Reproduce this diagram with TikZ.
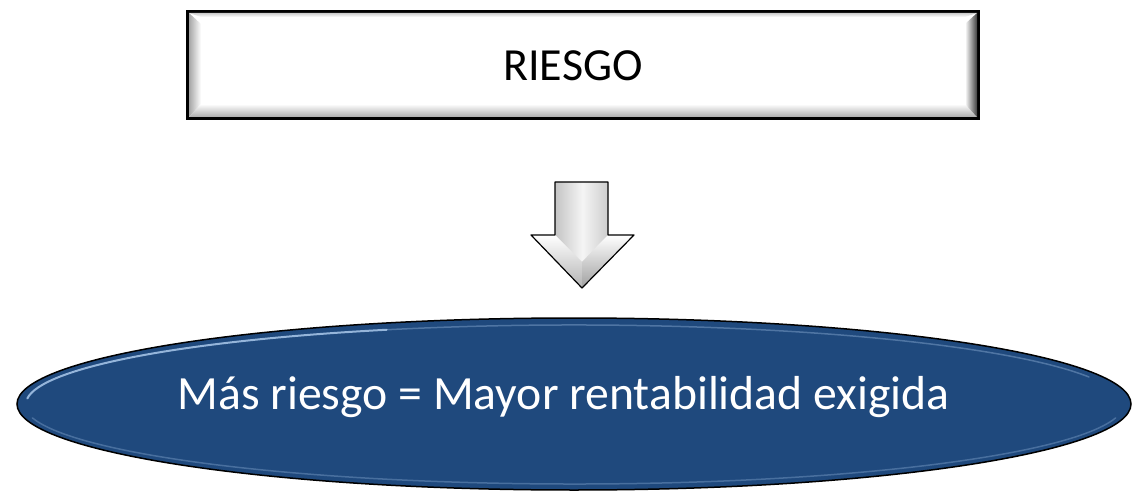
\documentclass[tikz,border=0pt]{standalone}
\usepackage{fontspec}
\setmainfont{Carlito}
\usetikzlibrary{shapes.geometric}
\definecolor{ovalblue}{RGB}{31,73,125}
\definecolor{rimblue}{RGB}{170,200,235}
\tikzset{
  titlebox/.style={draw=black, line width=3pt, fill=white, minimum width=791pt, minimum height=107pt, inner sep=0pt},
  oval/.style={ellipse, draw=black, line width=1.5pt, fill=ovalblue, minimum width=1114pt, minimum height=172pt, inner sep=0pt},
}
\begin{document}
\begin{tikzpicture}[x=1pt,y=-1pt]
\useasboundingbox (0,0) rectangle (1133,492);
% title box
\node[titlebox] (riesgo) at (583,65) {};
% bevels
\shade[left color=gray!70, right color=white] (189,13) -- (201,24) -- (201,104) -- (189,117) -- cycle;
\shade[top color=white, bottom color=gray!65] (189,117) -- (201,104) -- (965,104) -- (977,117) -- cycle;
\shade[left color=white, right color=black!75] (965,24) -- (977,13) -- (977,117) -- (965,104) -- cycle;
\shade[top color=gray!40, bottom color=white] (189,13) -- (977,13) -- (965,17) -- (201,17) -- cycle;
\node[font=\fontsize{46}{50}\selectfont, text=black] (riesgotxt) at (573,66) {RIESGO};
% block arrow
\shade[left color=gray!80, right color=gray!70, middle color=white!92!gray]
  (555,182) -- (608,182) -- (608,235) -- (634,235) -- (582,288) -- (531,235) -- (555,235) -- cycle;
\shade[top color=white, bottom color=gray!60] (531,235) -- (555,235) -- (562,242) -- (582,262) -- (582,288) -- cycle;
\shade[top color=white, bottom color=gray!75] (634,235) -- (608,235) -- (601,242) -- (582,262) -- (582,288) -- cycle;
\draw[line width=1.2pt, line join=round]
  (555,182) -- (608,182) -- (608,235) -- (634,235) -- (582,288) -- (531,235) -- (555,235) -- cycle;
% oval
\node[oval] (oval) at (574,404) {};
\draw[rimblue, line width=2pt, opacity=0.85, line cap=round] (574,404) ++(184:548 and 79) arc[start angle=184, end angle=250, x radius=548, y radius=79];
\draw[rimblue, line width=1.5pt, opacity=0.35, line cap=round] (574,404) ++(250:548 and 79) arc[start angle=250, end angle=340, x radius=548, y radius=79];
\draw[rimblue, line width=1.5pt, opacity=0.3, line cap=round] (574,404) ++(10:550 and 80) arc[start angle=10, end angle=170, x radius=550, y radius=80];
\node[font=\fontsize{47.7}{52}\selectfont, text=white] (ovaltxt) at (563.5,397) {Más riesgo = Mayor rentabilidad exigida};
\end{tikzpicture}
\end{document}
